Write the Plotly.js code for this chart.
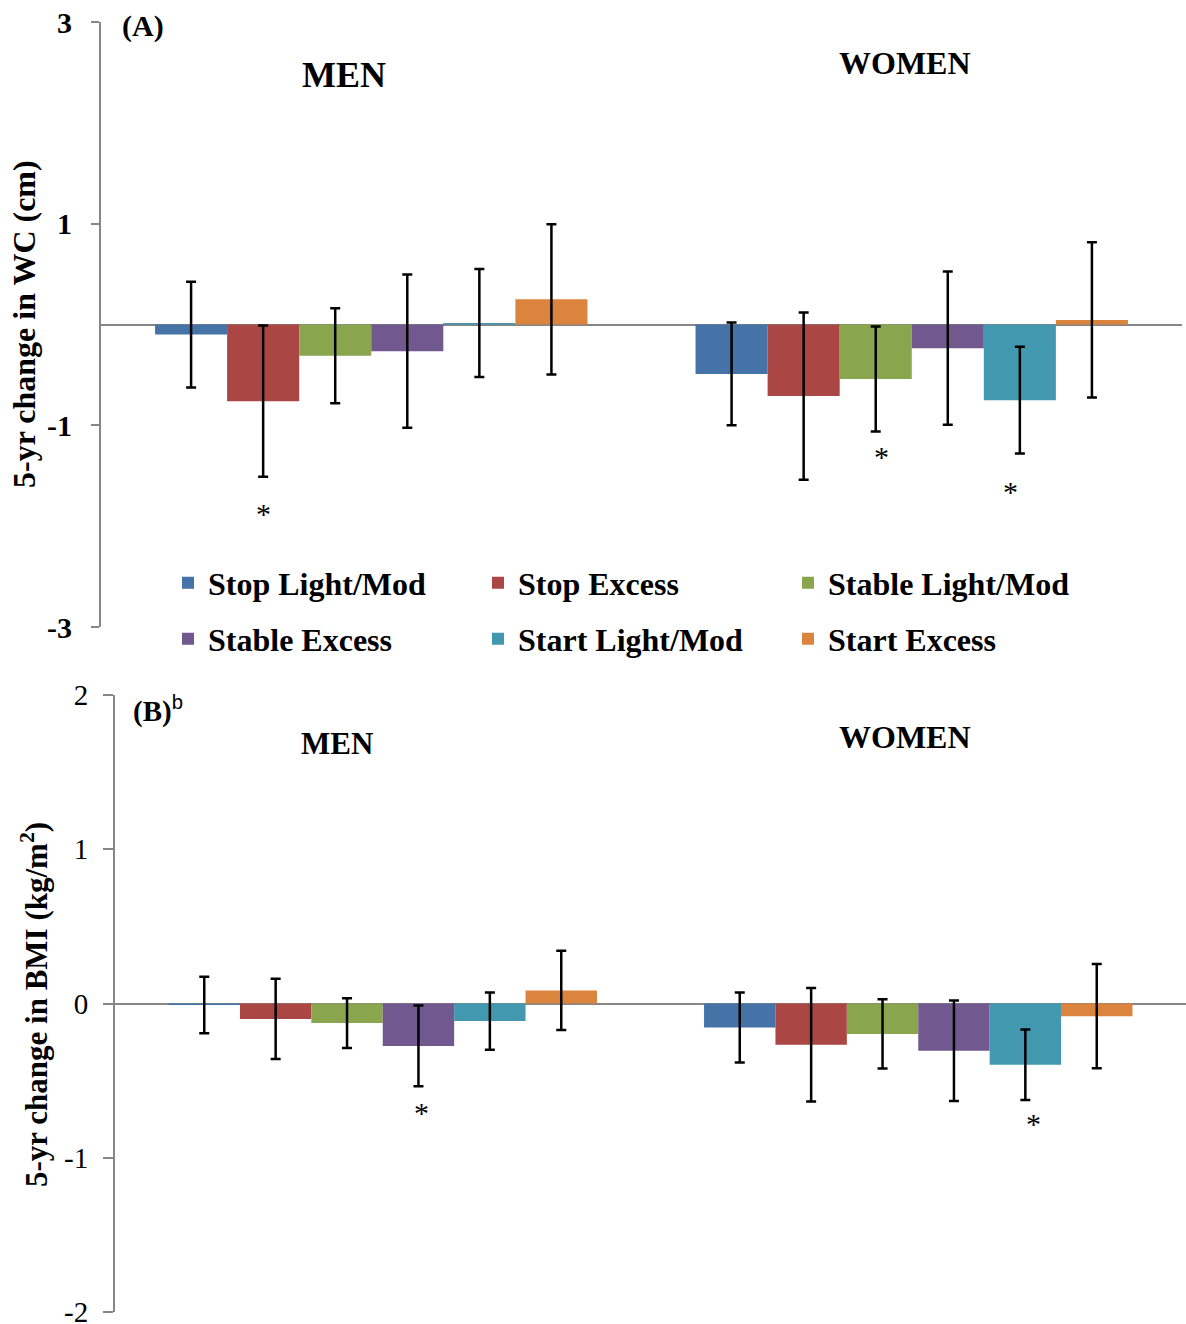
<!DOCTYPE html>
<html>
<head>
<meta charset="utf-8">
<script src="https://cdn.plot.ly/plotly-3.0.1.min.js"></script>
<style>html,body{margin:0;padding:0;background:#fff;}#chart{width:1186px;height:1324px;}</style>
</head>
<body>
<div id="chart"></div>
<script>
// ---- data ----
const categories = ['MEN', 'WOMEN'];
const seriesNames = ['Stop Light/Mod', 'Stop Excess', 'Stable Light/Mod', 'Stable Excess', 'Start Light/Mod', 'Start Excess'];
const seriesColors = ['#4572A7', '#AA4643', '#89A54E', '#71588F', '#4198AF', '#DB843D'];

// Panel A: 5-yr change in WC (cm)
const wcMen = [-0.10, -0.76, -0.31, -0.265, 0.015, 0.25];
const wcMenErr = [0.525, 0.75, 0.47, 0.76, 0.535, 0.745];
const wcWomen = [-0.49, -0.71, -0.54, -0.235, -0.75, 0.045];
const wcWomenErr = [0.51, 0.83, 0.52, 0.76, 0.53, 0.77];

// Panel B: 5-yr change in BMI (kg/m2)
const bmiMen = [-0.01, -0.10, -0.127, -0.275, -0.114, 0.085];
const bmiMenErr = [0.183, 0.26, 0.161, 0.262, 0.186, 0.257];
const bmiWomen = [-0.155, -0.268, -0.197, -0.306, -0.397, -0.082];
const bmiWomenErr = [0.227, 0.368, 0.225, 0.326, 0.229, 0.338];

// significance markers: [categoryIndex, seriesIndex, y]
const wcSig = [[0, 1, -1.86], [1, 2, -1.30], [1, 4, -1.65]];
const bmiSig = [[0, 3, -0.70], [1, 4, -0.77]];

const wcTicks = [-3, -1, 1, 3];
const bmiTicks = [-2, -1, 0, 1, 2];

// ---- styles ----
const SERIF = 'Liberation Serif, Times New Roman, serif';
const W = 1186, H = 1324;
const bargap = 0.2;
const wcSigNudge = [0, 6, -9];   // px horizontal nudge of each asterisk
const bmiSigNudge = [3, 8];

const traces = [];
seriesNames.forEach((name, i) => {
  traces.push({
    type: 'bar', name: name, x: categories, y: [wcMen[i], wcWomen[i]],
    xaxis: 'x', yaxis: 'y',
    marker: {color: seriesColors[i]},
    error_y: {type: 'data', array: [wcMenErr[i], wcWomenErr[i]], visible: true, color: '#000', thickness: 2.5, width: 5},
    legend: i < 3 ? 'legend' : 'legend2',
    showlegend: true, hoverinfo: 'skip'
  });
});
seriesNames.forEach((name, i) => {
  traces.push({
    type: 'bar', name: name, x: categories, y: [bmiMen[i], bmiWomen[i]],
    xaxis: 'x2', yaxis: 'y2',
    marker: {color: seriesColors[i]},
    error_y: {type: 'data', array: [bmiMenErr[i], bmiWomenErr[i]], visible: true, color: '#000', thickness: 2.5, width: 5},
    showlegend: false, hoverinfo: 'skip'
  });
});

const nS = seriesNames.length;
function barPos(cat, s) { return cat + (s - (nS - 1) / 2) * (1 - bargap) / nS; }

const annotations = [];
wcSig.forEach(([c, s, y], k) => annotations.push({xref: 'x', yref: 'y', x: barPos(c, s), y: y, text: '*', showarrow: false, font: {family: SERIF, size: 30, color: '#000'}, yshift: -1, xshift: wcSigNudge[k]}));
bmiSig.forEach(([c, s, y], k) => annotations.push({xref: 'x2', yref: 'y2', x: barPos(c, s), y: y, text: '*', showarrow: false, font: {family: SERIF, size: 30, color: '#000'}, yshift: -1, xshift: bmiSigNudge[k]}));

function px(x) { return x / W; }
function py(y) { return 1 - y / H; }
function label(text, x, y, size, extra) {
  return Object.assign({xref: 'paper', yref: 'paper', x: px(x), y: py(y), xanchor: 'center', yanchor: 'middle', text: text, showarrow: false, font: {family: SERIF, size: size, color: '#000'}}, extra || {});
}
annotations.push(label('<b>MEN</b>', 344, 75, 36));
annotations.push(label('<b>WOMEN</b>', 905, 63, 32));
annotations.push(label('<b>MEN</b>', 337, 743, 31));
annotations.push(label('<b>WOMEN</b>', 905, 737, 32));
annotations.push(label('<b>(A)</b>', 120, 26, 30, {xanchor: 'left'}));
annotations.push(label('<b>(B)</b><sup><span style="font-family:Liberation Sans, Arial, sans-serif">b</span></sup>', 131, 709, 29, {xanchor: 'left'}));
annotations.push(label('<b>5-yr change in WC (cm)</b>', 24, 324, 32, {textangle: -90}));
annotations.push(label('<b>5-yr change in BMI (kg/m<sup>2</sup>)</b>', 34, 1005, 31, {textangle: -90}));

const legendCommon = {
  orientation: 'h', xanchor: 'left', yanchor: 'middle', x: px(168),
  entrywidth: 265, entrywidthmode: 'pixels', bgcolor: 'rgba(0,0,0,0)',
  font: {family: SERIF, size: 32, color: '#000', weight: 'bold'}
};

const layout = {
  width: W, height: H,
  margin: {l: 0, r: 0, t: 0, b: 0},
  paper_bgcolor: '#fff', plot_bgcolor: '#fff',
  barmode: 'group', bargap: bargap, bargroupgap: 0,
  showlegend: true,
  legend: Object.assign({}, legendCommon, {y: py(583)}),
  legend2: Object.assign({}, legendCommon, {y: py(639)}),
  xaxis: {domain: [px(101), px(1182)], anchor: 'y', type: 'category', showticklabels: false, ticks: '', showline: false, showgrid: false, zeroline: false, fixedrange: true},
  yaxis: {domain: [py(627), py(22)], anchor: 'x', range: [-3, 3], tickvals: wcTicks, ticktext: wcTicks.map(String),
    showline: true, linecolor: '#868686', linewidth: 2, ticks: 'outside', ticklen: 8, tickwidth: 2, tickcolor: '#868686',
    showgrid: false, zeroline: true, zerolinecolor: '#868686', zerolinewidth: 2, ticklabelstandoff: 13, ticklabeloverflow: 'allow',
    tickfont: {family: SERIF, size: 30, color: '#000', weight: 'bold'}},
  xaxis2: {domain: [px(115), 1], anchor: 'y2', type: 'category', showticklabels: false, ticks: '', showline: false, showgrid: false, zeroline: false},
  yaxis2: {domain: [py(1312), py(695)], anchor: 'x2', range: [-2, 2], tickvals: bmiTicks, ticktext: bmiTicks.map(String),
    showline: true, linecolor: '#868686', linewidth: 2, ticks: 'outside', ticklen: 10, tickwidth: 2, tickcolor: '#868686',
    showgrid: false, zeroline: true, zerolinecolor: '#868686', zerolinewidth: 2, ticklabelstandoff: 9, ticklabeloverflow: 'allow',
    tickfont: {family: SERIF, size: 29, color: '#000'}},
  annotations: annotations
};

Plotly.newPlot('chart', traces, layout, {displayModeBar: false, staticPlot: true});
</script>
</body>
</html>
